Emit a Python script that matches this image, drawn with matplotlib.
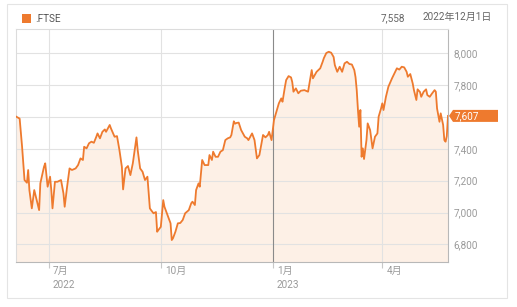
import numpy as np
import pandas as pd
import matplotlib
matplotlib.use('Agg')
import matplotlib.pyplot as plt
from matplotlib.patches import Rectangle, Polygon
from matplotlib.transforms import ScaledTranslation

plt.rcParams['font.family'] = ['Roboto', 'Noto Sans CJK JP', 'DejaVu Sans']

# FTSE 100 closes
dates = [
    "2022-06-04", "2022-06-07", "2022-06-09", "2022-06-11", "2022-06-13", "2022-06-14", "2022-06-15", "2022-06-17",
    "2022-06-19", "2022-06-21", "2022-06-23", "2022-06-24", "2022-06-27", "2022-06-28", "2022-06-30",
    "2022-07-02", "2022-07-03", "2022-07-04", "2022-07-06", "2022-07-08", "2022-07-11", "2022-07-13", "2022-07-14",
    "2022-07-16", "2022-07-18", "2022-07-20", "2022-07-23", "2022-07-25", "2022-07-27", "2022-07-29", "2022-07-30",
    "2022-08-01", "2022-08-03", "2022-08-05", "2022-08-07", "2022-08-09", "2022-08-10", "2022-08-12", "2022-08-14",
    "2022-08-16", "2022-08-17", "2022-08-20", "2022-08-21", "2022-08-24", "2022-08-26", "2022-08-28", "2022-08-30",
    "2022-08-31",
    "2022-09-02", "2022-09-04", "2022-09-06", "2022-09-08", "2022-09-11", "2022-09-12", "2022-09-14", "2022-09-16",
    "2022-09-18", "2022-09-20", "2022-09-22", "2022-09-23", "2022-09-25", "2022-09-27", "2022-09-28", "2022-09-29",
    "2022-10-01", "2022-10-03", "2022-10-04", "2022-10-07", "2022-10-09", "2022-10-10", "2022-10-11", "2022-10-13",
    "2022-10-15", "2022-10-17", "2022-10-19", "2022-10-21", "2022-10-24", "2022-10-26", "2022-10-27", "2022-10-29",
    "2022-10-30",
    "2022-11-01", "2022-11-02", "2022-11-04", "2022-11-06", "2022-11-09", "2022-11-10", "2022-11-12", "2022-11-13",
    "2022-11-15", "2022-11-17", "2022-11-19", "2022-11-21", "2022-11-23", "2022-11-25", "2022-11-27", "2022-11-28",
    "2022-11-30",
    "2022-12-01", "2022-12-02", "2022-12-04", "2022-12-06", "2022-12-09", "2022-12-11", "2022-12-12", "2022-12-15",
    "2022-12-17", "2022-12-19", "2022-12-21", "2022-12-24", "2022-12-26", "2022-12-28", "2022-12-29", "2022-12-31",
    "2023-01-02", "2023-01-04", "2023-01-06", "2023-01-08", "2023-01-09", "2023-01-11", "2023-01-12", "2023-01-14",
    "2023-01-16", "2023-01-17", "2023-01-18", "2023-01-20", "2023-01-22", "2023-01-24", "2023-01-27", "2023-01-30",
    "2023-02-02", "2023-02-03", "2023-02-06", "2023-02-09", "2023-02-11", "2023-02-12", "2023-02-14", "2023-02-16",
    "2023-02-18", "2023-02-20", "2023-02-21", "2023-02-23", "2023-02-25", "2023-02-27",
    "2023-03-01", "2023-03-03", "2023-03-05", "2023-03-07", "2023-03-09", "2023-03-10", "2023-03-11", "2023-03-12",
    "2023-03-13", "2023-03-14", "2023-03-15", "2023-03-16", "2023-03-17", "2023-03-19", "2023-03-20", "2023-03-22",
    "2023-03-24", "2023-03-26", "2023-03-28", "2023-03-29", "2023-03-31",
    "2023-04-01", "2023-04-02", "2023-04-04", "2023-04-06", "2023-04-09", "2023-04-11", "2023-04-13", "2023-04-15",
    "2023-04-17", "2023-04-19", "2023-04-21", "2023-04-22", "2023-04-24", "2023-04-26", "2023-04-27", "2023-04-29",
    "2023-04-30",
    "2023-05-02", "2023-05-03", "2023-05-05", "2023-05-07", "2023-05-08", "2023-05-10", "2023-05-12", "2023-05-14",
    "2023-05-15", "2023-05-16", "2023-05-18", "2023-05-19", "2023-05-21", "2023-05-22", "2023-05-23", "2023-05-24",
    "2023-05-25",
]
closes = [
    7603, 7590, 7413, 7204, 7187, 7267, 7141, 7026, 7141, 7078, 7015, 7183, 7287, 7309, 7162,
    7225, 7141, 7026, 7193, 7193, 7204, 7120, 7036, 7162, 7277, 7267, 7277, 7298, 7340, 7330, 7413,
    7403, 7435, 7445, 7438, 7476, 7497, 7466, 7507, 7522, 7507, 7550, 7529, 7476, 7480, 7392, 7287, 7145,
    7277, 7292, 7235, 7309, 7472, 7392, 7277, 7256, 7204, 7225, 7026, 7015, 6995, 7003, 6879, 6890,
    6910, 7078, 7036, 6973, 6932, 6827, 6838, 6879, 6932, 6934, 6953, 6995, 7015, 7058, 7068, 7047, 7141,
    7183, 7162, 7330, 7298, 7298, 7361, 7330, 7382, 7350, 7350, 7382, 7392, 7455, 7466, 7472, 7487, 7573,
    7558, 7562, 7565, 7518, 7476, 7466, 7455, 7497, 7455, 7340, 7361, 7487, 7472, 7487, 7507, 7455,
    7581, 7633, 7686, 7717, 7696, 7790, 7832, 7857, 7849, 7820, 7759, 7780, 7749, 7765, 7769, 7759,
    7895, 7843, 7884, 7906, 7947, 7970, 8002, 8010, 8004, 7977, 7926, 7884, 7916, 7884,
    7937, 7947, 7933, 7930, 7895, 7851, 7769, 7644, 7539, 7644, 7350, 7403, 7336, 7455, 7560, 7518,
    7403, 7476, 7497, 7602, 7654,
    7686, 7644, 7727, 7790, 7843, 7874, 7906, 7898, 7916, 7912, 7884, 7853, 7870, 7811, 7769, 7707, 7774,
    7757, 7727, 7759, 7774, 7738, 7727, 7749, 7769, 7759, 7654, 7570, 7623, 7550, 7455, 7445, 7480, 7607,
]

tick_dates = ["2022-07-01", "2022-10-01", "2023-01-01", "2023-04-01"]
tick_labels = ["7月\n2022", "10月", "1月\n2023", "4月"]
y_ticks = [6800, 7000, 7200, 7400, 7600, 7800, 8000]

hover_date = "2022年12月1日"
hover_value = 7558
symbol = ".FTSE"

orange = '#ee7a2e'
fill = '#fdf0e6'
grey_txt = '#9a9a9a'

x = pd.to_datetime(dates)
y = np.array(closes)
last = y[-1]

W, H = 517, 307
fig = plt.figure(figsize=(W / 100, H / 100), dpi=100)
fig.patch.set_facecolor('white')

# card outline
fig.patches.append(Rectangle((7 / W, 1 - 298 / H), 500 / W, 294 / H, transform=fig.transFigure,
                             fc='none', ec='#e4e4e4', lw=0.8, zorder=-1))

ax = fig.add_axes([16 / W, 1 - 262 / H, 432 / W, 233 / H])
ax.set_facecolor('white')

ax.fill_between(x, y, 6600, color=fill, lw=0, zorder=1)
ax.plot(x, y, color=orange, lw=1.3, zorder=3, solid_joinstyle='round')

ax.set_xlim(pd.Timestamp("2022-06-04"), pd.Timestamp("2023-05-25"))
ax.set_ylim(6689, 8153)

# grid; the label hidden under the last-value box is left blank
ax.set_yticks(y_ticks)
ax.set_yticklabels(["" if abs(v - last) < 60 else f"{v:,}" for v in y_ticks])
ax.yaxis.tick_right()
ax.tick_params(axis='y', length=0, pad=4, labelsize=7.2, labelcolor=grey_txt)
for v in y_ticks:
    ax.axhline(v, color='#e2e2e2', lw=0.8, zorder=2)

tds = pd.to_datetime(tick_dates)
ax.set_xticks(tds)
ax.set_xticklabels([])
ax.tick_params(axis='x', length=4, width=0.8, color='#c8c8c8', direction='out')
for d in tds:
    c = '#8a8a8a' if d.month == 1 else '#e2e2e2'
    ax.axvline(d, color=c, lw=0.8, zorder=2)

off = ScaledTranslation(4 / 100, -4 / 100, fig.dpi_scale_trans)
for d, lab in zip(tds, tick_labels):
    ax.text(d, 0, lab, transform=ax.get_xaxis_transform() + off, ha='left', va='top',
            fontsize=7.2, color=grey_txt, linespacing=1.45)

for s in ['top', 'left']:
    ax.spines[s].set_color('#dcdcdc')
    ax.spines[s].set_linewidth(0.8)
for s in ['bottom', 'right']:
    ax.spines[s].set_color('#b8b8b8')
    ax.spines[s].set_linewidth(0.8)

# last value marker on the right axis
tr = ax.get_yaxis_transform()
hh = 6 * (8153 - 6689) / 233
px = 1 / 432
ax.add_patch(Polygon([(1 + 1 * px, last), (1 + 5 * px, last + hh), (1 + 50 * px, last + hh),
                      (1 + 50 * px, last - hh), (1 + 5 * px, last - hh)],
                     closed=True, transform=tr, fc=orange, ec='none', clip_on=False, zorder=5))
ax.text(1 + 7 * px, last, f"{last:,}", transform=tr, ha='left', va='center',
        fontsize=7.2, color='white', zorder=6)

# header
fig.patches.append(Rectangle((22 / W, 1 - 23 / H), 9 / W, 9 / H, transform=fig.transFigure,
                             fc=orange, ec='none'))
fig.text(35 / W, 1 - 19 / H, symbol, ha='left', va='center', fontsize=7.2, color='#555555')
fig.text(405 / W, 1 - 18 / H, f"{hover_value:,}", ha='right', va='center', fontsize=7.2, color='#666666')
fig.text(492 / W, 1 - 17 / H, hover_date, ha='right', va='center', fontsize=7.2, color='#666666')

fig.savefig('out.png', dpi=100)
